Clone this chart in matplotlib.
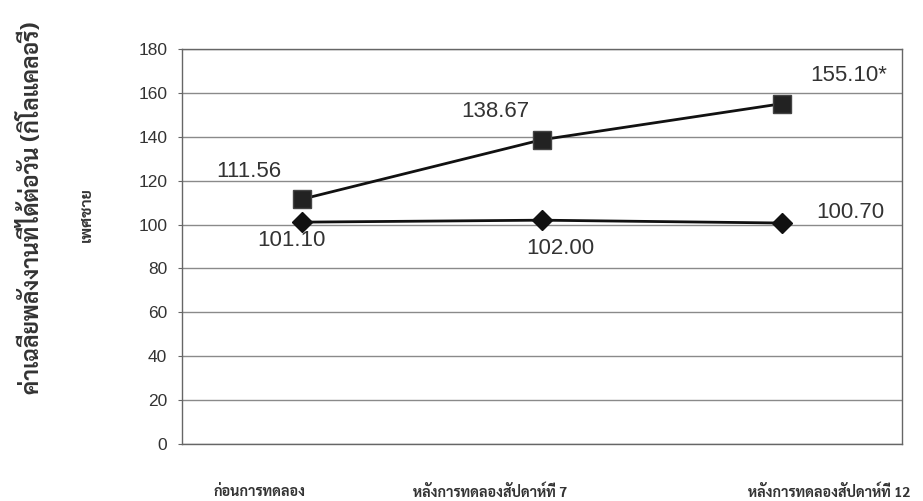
import matplotlib
matplotlib.use("Agg")
import matplotlib.pyplot as plt

# mean daily energy (kcal), male group
periods = ["ก่อนการทดลอง", "หลังการทดลองสัปดาห์ที่ 7", "หลังการทดลองสัปดาห์ที่ 12"]
experimental = [111.56, 138.67, 155.10]
control = [101.10, 102.00, 100.70]
exp_labels = ["111.56", "138.67", "155.10*"]
ctrl_labels = ["101.10", "102.00", "100.70"]
y_ticks = list(range(0, 181, 20))

thai = ["Sarabun", "DejaVu Sans"]
num_font = ["Liberation Sans", "DejaVu Sans"]

fig = plt.figure(figsize=(9.23, 5.01), dpi=100)
ax = fig.add_axes([0.197, 0.114, 0.78, 0.788])

x = range(len(periods))
ax.plot(x, experimental, color="#111111", lw=2.0, marker="s", ms=12.5,
        mfc="#222222", mec="#444444", zorder=3)
ax.plot(x, control, color="#111111", lw=2.0, marker="D", ms=10,
        mfc="#111111", mec="#111111", zorder=3)

# value labels next to each point
exp_off = [(-53, 28), (-46, 28), (67, 28)]
ctrl_off = [(-10, -18), (19, -28), (69, 11)]
for i in x:
    ax.annotate(exp_labels[i], (i, experimental[i]), xytext=exp_off[i],
                textcoords="offset pixels", ha="center", va="center",
                fontsize=16, color="#333333", family=num_font)
    ax.annotate(ctrl_labels[i], (i, control[i]), xytext=ctrl_off[i],
                textcoords="offset pixels", ha="center", va="center",
                fontsize=16, color="#333333", family=num_font)

ax.set_xlim(-0.5, 2.5)
ax.set_ylim(0, 180)
ax.set_yticks(y_ticks)
ax.set_yticklabels([str(t) for t in y_ticks], family=num_font, fontsize=12.5,
                   color="#333333")
ax.set_xticks([])
ax.tick_params(axis="y", length=3, color="#666666", pad=7.5)
ax.yaxis.grid(True, color="#8a8a8a", lw=1.0)
ax.set_axisbelow(True)
for s in ax.spines.values():
    s.set_color("#666666")
    s.set_linewidth(1.0)

# period names sit under the plot area
label_x = [213, 413, 748]
for lx, name in zip(label_x, periods):
    fig.text(lx / 923, 0.018, name, ha="left", va="center", family=thai,
             fontsize=10.3, fontweight="bold", color="#333333")

fig.text(32 / 923, 1 - 208 / 501, "ค่าเฉลี่ยพลังงานที่ได้ต่อวัน (กิโลแคลอรี่)",
         rotation=90, ha="center", va="center", family=thai, fontsize=16.5,
         fontweight="bold", color="#333333")
fig.text(87 / 923, 1 - 215 / 501, "เพศชาย", rotation=90, ha="center",
         va="center", family=thai, fontsize=11.5, fontweight="bold",
         color="#333333")

fig.savefig("out.png")
